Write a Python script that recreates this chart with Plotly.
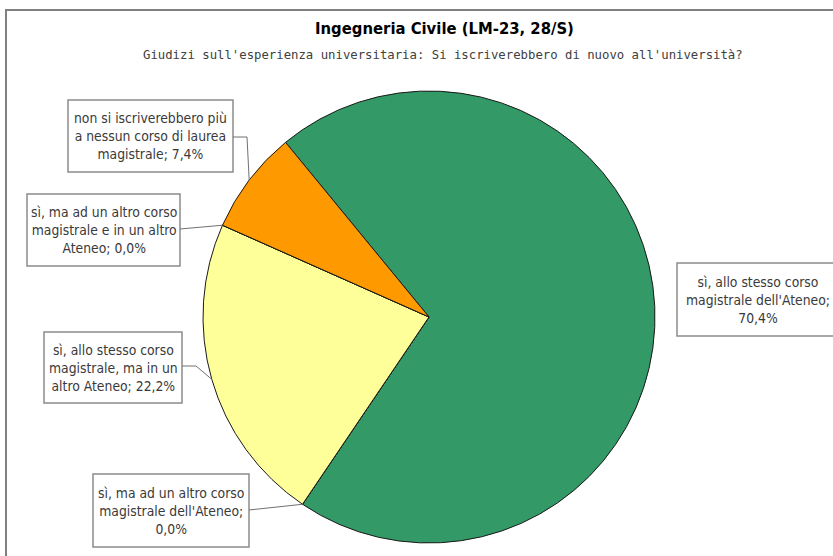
import math
import textwrap
import plotly.graph_objects as go

# ---- data ----
categories = [
    "sì, allo stesso corso magistrale dell'Ateneo",
    "sì, ma ad un altro corso magistrale dell'Ateneo",
    "sì, allo stesso corso magistrale, ma in un altro Ateneo",
    "sì, ma ad un altro corso magistrale e in un altro Ateneo",
    "non si iscriverebbero più a nessun corso di laurea magistrale",
]
percentages = [70.4, 0.0, 22.2, 0.0, 7.4]
colors = ["#339966", "#CC99FF", "#FFFF99", "#99CCFF", "#FF9900"]
title_text = "Ingegneria Civile (LM-23, 28/S)"
subtitle_text = "Giudizi sull'esperienza universitaria: Si iscriverebbero di nuovo all'università?"

# ---- layout constants (pixels) ----
W, H = 833, 556
CX, CY, R = 429, 317, 226
ROT = -39.4
wrap_widths = [23, 24, 21, 24, 25]
# label boxes: (x0, x1, y0, y1) in pixels
boxes = [
    (677, 838, 263, 336),
    (93, 249, 474, 547),
    (44, 182, 332, 403),
    (27, 180, 194, 266),
    (68, 233, 100, 172),
]
TXT_FONT = "Liberation Sans Narrow, DejaVu Sans Condensed, Arial Narrow, sans-serif"


def px(x):
    return x / W


def py(y):
    return 1 - y / H


def fmt(v):
    return f"{v:.1f}".replace(".", ",") + "%"


fig = go.Figure()
fig.add_trace(go.Pie(
    labels=categories,
    values=[p if p > 0 else 1e-9 for p in percentages],
    sort=False,
    direction="clockwise",
    rotation=ROT,
    marker=dict(colors=colors, line=dict(color="#1a1a1a", width=1)),
    textinfo="none",
    hoverinfo="label+percent",
    showlegend=False,
    domain=dict(x=[px(CX - R), px(CX + R)], y=[py(CY + R), py(CY - R)]),
))

# angles of each slice from the data
total = sum(percentages)
cum = 0.0
edge_pts = []
for v in percentages:
    a0 = ROT + cum / total * 360
    a1 = ROT + (cum + v) / total * 360
    mid = math.radians((a0 + a1) / 2)
    edge_pts.append((CX + R * math.sin(mid), CY - R * math.cos(mid)))
    cum += v

shapes = []
annotations = []
# chart border
shapes.append(dict(type="rect", xref="paper", yref="paper",
                   x0=px(6), x1=px(845), y0=py(10), y1=py(575),
                   line=dict(color="#808080", width=2), fillcolor="rgba(0,0,0,0)"))

for i, (cat, v) in enumerate(zip(categories, percentages)):
    x0, x1, y0, y1 = boxes[i]
    text = "<br>".join(textwrap.wrap(f"{cat}; {fmt(v)}", wrap_widths[i]))
    shapes.append(dict(type="rect", xref="paper", yref="paper",
                       x0=px(x0), x1=px(x1), y0=py(y1), y1=py(y0),
                       line=dict(color="#8c8c8c", width=1.5), fillcolor="white"))
    annotations.append(dict(xref="paper", yref="paper",
                            x=px((x0 + x1) / 2), y=py((y0 + y1) / 2),
                            xanchor="center", yanchor="middle",
                            text=text, showarrow=False, align="center",
                            font=dict(family=TXT_FONT, size=13.8, color="#3a3a3a")))

# leader lines
ex, ey = edge_pts[4]
shapes.append(dict(type="path", xref="paper", yref="paper",
                   path=f"M {px(233)},{py(137)} L {px(247)},{py(137)} L {px(ex)},{py(ey)}",
                   line=dict(color="#707070", width=1)))
ex, ey = edge_pts[3]
shapes.append(dict(type="path", xref="paper", yref="paper",
                   path=f"M {px(180)},{py(229)} L {px(ex)},{py(ey)}",
                   line=dict(color="#707070", width=1)))
ex, ey = edge_pts[2]
shapes.append(dict(type="path", xref="paper", yref="paper",
                   path=f"M {px(182)},{py(366)} L {px(196)},{py(366)} L {px(ex)},{py(ey)}",
                   line=dict(color="#707070", width=1)))
ex, ey = edge_pts[1]
shapes.append(dict(type="path", xref="paper", yref="paper",
                   path=f"M {px(249)},{py(510)} L {px(ex)},{py(ey)}",
                   line=dict(color="#707070", width=1)))

annotations.append(dict(xref="paper", yref="paper", x=px(444), y=py(28),
                        xanchor="center", yanchor="middle", showarrow=False,
                        text=f"<b>{title_text}</b>",
                        font=dict(family=TXT_FONT, size=16.5, color="#000000")))
annotations.append(dict(xref="paper", yref="paper", x=px(443), y=py(55),
                        xanchor="center", yanchor="middle", showarrow=False,
                        text=subtitle_text,
                        font=dict(family="DejaVu Sans Mono, monospace",
                                  size=12.3, color="#404040")))

fig.update_layout(
    width=W, height=H,
    margin=dict(l=0, r=0, t=0, b=0),
    paper_bgcolor="white", plot_bgcolor="white",
    shapes=shapes, annotations=annotations,
)

fig.write_html("out.html",
               config={"displayModeBar": False},
               post_script="document.body.style.margin='0';document.body.style.overflow='hidden';")
